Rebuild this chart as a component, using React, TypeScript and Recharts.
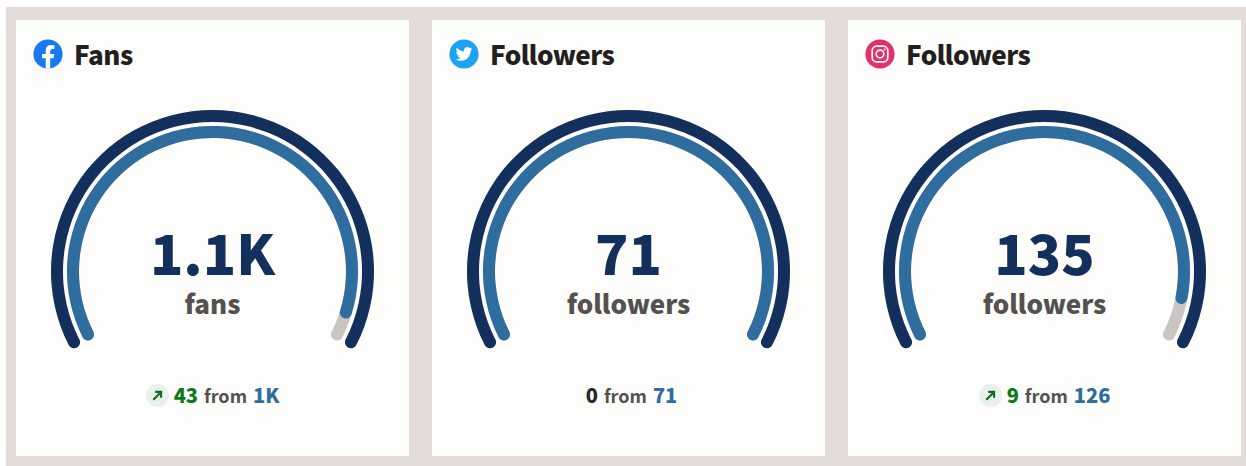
import React from "react";
import { PieChart, Pie, Cell } from "recharts";

const titles = ["Fans", "Followers", "Followers"];
const networks = ["facebook", "twitter", "instagram"];
const headline = ["1.1K", "71", "135"];
const units = ["fans", "followers", "followers"];
const currentValues = [1057, 71, 135];
const previousValues = [1014, 71, 126];
const changes = [43, 0, 9];
const previousLabels = ["1K", "71", "126"];

const NAVY = "#132f5c";
const BLUE = "#2f6d9e";
const GREY = "#c8c5c3";
const FONT = '"Noto Sans CJK JP", "Noto Sans", sans-serif';

const START = 209.3;
const END = -29.3;

function NetworkIcon({ name }: { name: string }) {
  if (name === "facebook") {
    return (
      <svg width="30" height="30" viewBox="0 0 30 30">
        <circle cx="15" cy="15" r="14.6" fill="#1877f2" />
        <path
          d="M12.7 29.6V19.3H9v-4.3h3.7v-3.2c0-3.7 2.2-5.7 5.5-5.7 1.6 0 3.2.3 3.2.3v3.6h-1.8c-1.8 0-2.4 1.1-2.4 2.3V15h4l-.6 4.3h-3.4v10.3z"
          fill="#fdfdfb"
        />
      </svg>
    );
  }
  if (name === "twitter") {
    return (
      <svg width="30" height="30" viewBox="0 0 30 30">
        <circle cx="15" cy="15" r="14.6" fill="#1da1f2" />
        <g transform="translate(6.6 6.6) scale(0.7)">
          <path
            d="M23.95 4.57a10 10 0 0 1-2.82.77 4.96 4.96 0 0 0 2.16-2.72c-.95.55-2 .95-3.12 1.18a4.92 4.92 0 0 0-8.38 4.48C7.69 8.1 4.07 6.13 1.64 3.16a4.82 4.82 0 0 0-.67 2.47c0 1.71.87 3.21 2.19 4.1a4.9 4.9 0 0 1-2.23-.61v.06a4.92 4.92 0 0 0 3.95 4.83 5 5 0 0 1-2.21.08 4.94 4.94 0 0 0 4.6 3.42A9.87 9.87 0 0 1 0 19.54a14 14 0 0 0 7.56 2.21c9.05 0 14-7.5 14-13.98 0-.21 0-.42-.02-.63a9.94 9.94 0 0 0 2.46-2.55z"
            fill="#fdfdfb"
          />
        </g>
      </svg>
    );
  }
  return (
    <svg width="30" height="30" viewBox="0 0 30 30">
      <circle cx="15" cy="15" r="14.6" fill="#e1306c" />
      <rect x="7.2" y="7.2" width="15.6" height="15.6" rx="4.4" fill="none" stroke="#fdfdfb" strokeWidth="1.7" />
      <circle cx="15" cy="15" r="3.8" fill="none" stroke="#fdfdfb" strokeWidth="1.7" />
      <circle cx="19.6" cy="10.4" r="1" fill="#fdfdfb" />
    </svg>
  );
}

function Trend({ i }: { i: number }) {
  const up = changes[i] > 0;
  return (
    <div
      style={{
        position: "absolute",
        top: 361,
        left: up ? 0 : 3,
        width: 393,
        height: 28,
        display: "flex",
        justifyContent: "center",
        alignItems: "center",
        fontSize: 20,
        fontWeight: 900,
        lineHeight: "28px",
      }}
    >
      {up && (
        <svg width="23" height="23" viewBox="0 0 23 23" style={{ marginRight: 5 }}>
          <circle cx="11.5" cy="11.5" r="11.5" fill="#e9f1ec" />
          <path d="M7.3 15.7 14.6 8.4M9.2 7.9h5.9v5.9" fill="none" stroke="#0f6b1c" strokeWidth="2.1" />
        </svg>
      )}
      <span style={{ color: up ? "#0f7a1c" : "#2a2827" }}>{changes[i]}</span>
      <span style={{ color: "#545150", margin: "0 6px", fontSize: 18, fontWeight: 700 }}>from</span>
      <span style={{ color: BLUE }}>{previousLabels[i]}</span>
    </div>
  );
}

function GaugeCard({ i }: { i: number }) {
  const total = [{ value: currentValues[i] }];
  const progress = [
    { value: previousValues[i] },
    { value: currentValues[i] - previousValues[i] },
  ];
  return (
    <div style={{ position: "relative", width: 393, height: 436, background: "#fdfdfb" }}>
      <div style={{ position: "absolute", left: 17, top: 19, width: 30, height: 30 }}>
        <NetworkIcon name={networks[i]} />
      </div>
      <div
        style={{
          position: "absolute",
          left: 58,
          top: 15,
          fontSize: 26,
          fontWeight: 900,
          lineHeight: "38px",
          letterSpacing: -0.5,
          color: "#231f20",
        }}
      >
        {titles[i]}
      </div>
      <PieChart
        width={393}
        height={436}
        margin={{ top: 0, right: 0, bottom: 0, left: 0 }}
        style={{ position: "absolute", left: 0, top: 0 }}
      >
        <Pie
          data={[{ value: 1 }]}
          dataKey="value"
          cx={196.5}
          cy={251.5}
          startAngle={START}
          endAngle={END}
          innerRadius={149.5}
          outerRadius={161.5}
          cornerRadius={6}
          fill={NAVY}
          stroke="none"
          isAnimationActive={false}
        />
        <Pie
          data={total}
          dataKey="value"
          cx={196.5}
          cy={251.5}
          startAngle={START}
          endAngle={END}
          innerRadius={133.5}
          outerRadius={145.5}
          cornerRadius={6}
          fill={GREY}
          stroke="none"
          isAnimationActive={false}
        />
        <Pie
          data={progress}
          dataKey="value"
          cx={196.5}
          cy={251.5}
          startAngle={START}
          endAngle={END}
          innerRadius={133.5}
          outerRadius={145.5}
          cornerRadius={6}
          stroke="none"
          isAnimationActive={false}
        >
          <Cell fill={BLUE} />
          <Cell fill="transparent" />
        </Pie>
      </PieChart>
      <div
        style={{
          position: "absolute",
          left: 0,
          width: 393,
          top: 203,
          textAlign: "center",
          fontSize: 55,
          fontWeight: 900,
          lineHeight: "56px",
          color: NAVY,
        }}
      >
        {headline[i]}
      </div>
      <div
        style={{
          position: "absolute",
          left: 0,
          width: 393,
          top: 265,
          textAlign: "center",
          fontSize: 26,
          fontWeight: 900,
          lineHeight: "36px",
          color: "#545150",
        }}
      >
        {units[i]}
      </div>
      <Trend i={i} />
    </div>
  );
}

export default function App() {
  return (
    <div style={{ position: "absolute", left: 0, top: 0, width: 1246, height: 466, background: "#fff", overflow: "hidden", fontFamily: FONT }}>
      <style>{"body{margin:0}"}</style>
      <div style={{ position: "absolute", left: 6, top: 7, width: 1240, height: 459, background: "#e4dcd9" }} />
      {titles.map((_, i) => (
        <div key={i} style={{ position: "absolute", left: 16 + i * 416, top: 20 }}>
          <GaugeCard i={i} />
        </div>
      ))}
    </div>
  );
}
